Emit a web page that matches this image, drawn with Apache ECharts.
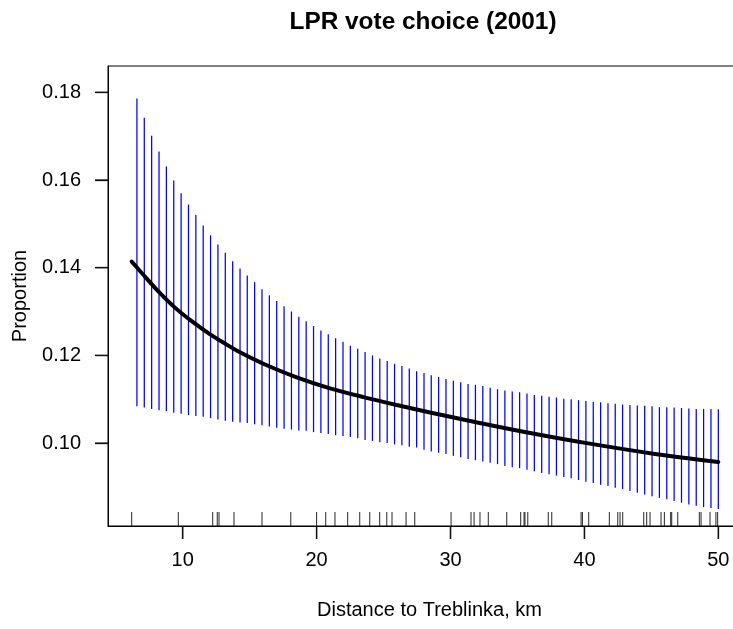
<!DOCTYPE html>
<html>
<head>
<meta charset="utf-8">
<script src="https://cdn.jsdelivr.net/npm/echarts@6/dist/echarts.min.js"></script>
<style>
html,body{margin:0;padding:0;background:#fff;}
#chart{width:733px;height:629px;}
</style>
</head>
<body>
<div id="chart"></div>
<script>
// ---- data ----
const barX = [6.58, 7.13, 7.68, 8.23, 8.78, 9.33, 9.88, 10.43, 10.98, 11.53,
  12.08, 12.63, 13.18, 13.73, 14.28, 14.82, 15.37, 15.92, 16.47, 17.02,
  17.57, 18.12, 18.67, 19.22, 19.77, 20.32, 20.87, 21.42, 21.97, 22.52,
  23.07, 23.62, 24.17, 24.72, 25.27, 25.82, 26.37, 26.92, 27.47, 28.02,
  28.56, 29.11, 29.66, 30.21, 30.76, 31.31, 31.86, 32.41, 32.96, 33.51,
  34.06, 34.61, 35.16, 35.71, 36.26, 36.81, 37.36, 37.91, 38.46, 39.01,
  39.56, 40.11, 40.66, 41.21, 41.76, 42.30, 42.85, 43.40, 43.95, 44.50,
  45.05, 45.60, 46.15, 46.70, 47.25, 47.80, 48.35, 48.90, 49.45, 50.00];
const upper = [0.1786, 0.1742, 0.1701, 0.1665, 0.1631, 0.1599, 0.1570, 0.1544, 0.1520, 0.1496,
  0.1474, 0.1453, 0.1434, 0.1415, 0.1398, 0.1382, 0.1367, 0.1351, 0.1337, 0.1324,
  0.1312, 0.1300, 0.1288, 0.1278, 0.1267, 0.1257, 0.1248, 0.1239, 0.1231, 0.1222,
  0.1215, 0.1208, 0.1200, 0.1193, 0.1187, 0.1181, 0.1176, 0.1170, 0.1164, 0.1160,
  0.1155, 0.1151, 0.1146, 0.1142, 0.1139, 0.1135, 0.1133, 0.1130, 0.1126, 0.1123,
  0.1120, 0.1118, 0.1116, 0.1113, 0.1110, 0.1108, 0.1106, 0.1104, 0.1101, 0.1100,
  0.1098, 0.1096, 0.1094, 0.1093, 0.1091, 0.1090, 0.1088, 0.1087, 0.1086, 0.1085,
  0.1084, 0.1082, 0.1082, 0.1081, 0.1080, 0.1079, 0.1078, 0.1078, 0.1078, 0.1077];
const lower = [0.1084, 0.1081, 0.1078, 0.1075, 0.1073, 0.1069, 0.1067, 0.1064, 0.1062, 0.1060,
  0.1057, 0.1054, 0.1051, 0.1049, 0.1047, 0.1046, 0.1043, 0.1041, 0.1038, 0.1035,
  0.1033, 0.1031, 0.1029, 0.1028, 0.1025, 0.1023, 0.1021, 0.1018, 0.1016, 0.1014,
  0.1011, 0.1007, 0.1005, 0.1002, 0.1000, 0.0997, 0.0995, 0.0992, 0.0990, 0.0985,
  0.0981, 0.0978, 0.0975, 0.0971, 0.0968, 0.0964, 0.0961, 0.0958, 0.0955, 0.0952,
  0.0948, 0.0945, 0.0943, 0.0939, 0.0936, 0.0932, 0.0929, 0.0926, 0.0923, 0.0920,
  0.0916, 0.0912, 0.0909, 0.0905, 0.0902, 0.0898, 0.0895, 0.0891, 0.0887, 0.0883,
  0.0879, 0.0875, 0.0872, 0.0868, 0.0864, 0.0860, 0.0857, 0.0854, 0.0852, 0.0850];
const lineX = [6.19, 6.94, 8.18, 9.42, 10.67, 11.91, 13.16, 14.28, 16.02, 18.51, 21.0, 23.49, 25.98, 28.47, 32.0, 35.44, 40.17, 45.15, 50.0];
const lineY = [0.1414, 0.1388, 0.1346, 0.1309, 0.1278, 0.1251, 0.1227, 0.1207, 0.1181, 0.1150, 0.1125, 0.1105, 0.1087, 0.1070, 0.1047, 0.1026, 0.1000, 0.0976, 0.0957];
const rugX = [6.19, 9.67, 12.24, 12.58, 12.71, 13.83, 15.92, 18.07, 20.0, 20.68, 21.37, 22.32, 23.22, 23.97, 24.71, 25.24, 25.63, 26.68, 27.33,
  30.04, 31.53, 31.76, 32.2, 32.82, 34.2, 35.24, 35.49, 35.56, 35.77, 37.3, 37.56, 39.75, 39.85, 40.32, 41.86, 42.49, 42.66, 42.86,
  44.43, 44.65, 44.9, 45.72, 45.97, 46.44, 46.52, 46.97, 48.58, 48.71, 49.38, 49.82, 49.95];
const xTicks = [10, 20, 30, 40, 50];
const yTicks = [0.10, 0.12, 0.14, 0.16, 0.18];
const titleText = 'LPR vote choice (2001)';
const xTitle = 'Distance to Treblinka, km';
const yTitle = 'Proportion';

// ---- chart ----
const FONT = '"Liberation Sans", Arial, Helvetica, sans-serif';
const X_MIN = 4.42, X_MAX = 52.44, Y_MIN = 0.0811, Y_MAX = 0.186;
const TICK_LEN = 13;

const chart = echarts.init(document.getElementById('chart'));

const ciData = barX.map((x, i) => [x, lower[i], upper[i]]);
const lineData = lineX.map((x, i) => [x, lineY[i]]);
const rugData = rugX.map(x => [x]);

function seg(x1, y1, x2, y2, stroke, w) {
  return {type: 'line', shape: {x1: x1, y1: y1, x2: x2, y2: y2}, style: {stroke: stroke, lineWidth: w}};
}

chart.setOption({
  animation: false,
  title: {
    text: titleText,
    left: 418,
    textAlign: 'center',
    top: 5,
    textStyle: {fontFamily: FONT, fontSize: 24.4, fontWeight: 'bold', color: '#000'}
  },
  grid: {
    left: 108, top: 66, right: -18, bottom: 103,
    show: true, borderColor: '#000', borderWidth: 1,
    containLabel: false, outerBoundsMode: 'none'
  },
  xAxis: {
    type: 'value', min: X_MIN, max: X_MAX,
    name: xTitle, nameLocation: 'middle', nameGap: 74,
    nameTextStyle: {fontFamily: FONT, fontSize: 20, color: '#000'},
    axisLine: {show: true, lineStyle: {color: '#000', width: 1}},
    axisTick: {show: true, length: TICK_LEN, lineStyle: {color: '#111', width: 1.3}, customValues: xTicks},
    axisLabel: {fontFamily: FONT, fontSize: 20, color: '#000', margin: 24, customValues: xTicks,
      formatter: v => String(Math.round(v))},
    splitLine: {show: false}
  },
  yAxis: {
    type: 'value', min: Y_MIN, max: Y_MAX,
    name: yTitle, nameLocation: 'middle', nameGap: 78, nameRotate: 90,
    nameTextStyle: {fontFamily: FONT, fontSize: 20, color: '#000'},
    axisLine: {show: true, lineStyle: {color: '#000', width: 1}},
    axisTick: {show: true, length: TICK_LEN, lineStyle: {color: '#111', width: 1.3}, customValues: yTicks},
    axisLabel: {fontFamily: FONT, fontSize: 20, color: '#000', margin: 27, customValues: yTicks,
      formatter: v => v.toFixed(2)},
    splitLine: {show: false}
  },
  series: [
    {
      type: 'custom',
      name: 'ci',
      data: ciData,
      encode: {x: 0, y: [1, 2]},
      renderItem: function (params, api) {
        const x = api.value(0);
        const p1 = api.coord([x, api.value(1)]);
        const p2 = api.coord([x, api.value(2)]);
        return seg(p1[0], p1[1], p2[0], p2[1], '#0000ff', 1.25);
      }
    },
    {
      type: 'line',
      name: 'fit',
      data: lineData,
      smooth: 0.3,
      showSymbol: false,
      symbol: 'none',
      clip: false,
      lineStyle: {color: '#000', width: 4, cap: 'round'},
      z: 5
    },
    {
      type: 'custom',
      name: 'rug',
      data: rugData,
      encode: {x: 0},
      renderItem: function (params, api) {
        const p = api.coord([api.value(0), Y_MIN]);
        return seg(p[0], p[1], p[0], p[1] - 14, 'rgba(0,0,0,0.85)', 1);
      }
    }
  ]
});

// fallback tick marks placed through the chart's own scales
const tickGraphics = [];
xTicks.forEach(v => {
  const p = chart.convertToPixel({gridIndex: 0}, [v, Y_MIN]);
  tickGraphics.push({type: 'line', z: 100,
    shape: {x1: p[0], y1: p[1], x2: p[0], y2: p[1] + TICK_LEN},
    style: {stroke: '#111', lineWidth: 1.3}});
});
yTicks.forEach(v => {
  const p = chart.convertToPixel({gridIndex: 0}, [X_MIN, v]);
  tickGraphics.push({type: 'line', z: 100,
    shape: {x1: p[0], y1: p[1], x2: p[0] - TICK_LEN, y2: p[1]},
    style: {stroke: '#111', lineWidth: 1.3}});
});
chart.setOption({graphic: tickGraphics});
</script>
</body>
</html>
